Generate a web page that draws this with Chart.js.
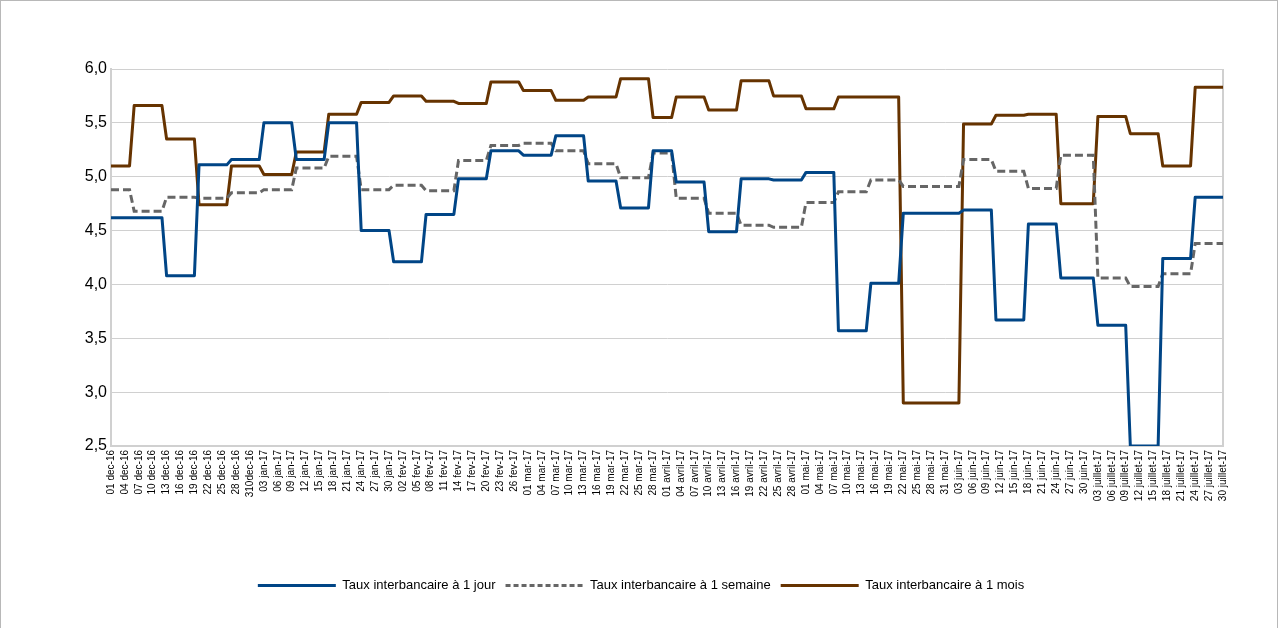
<!DOCTYPE html>
<html><head><meta charset="utf-8">
<script src="https://cdn.jsdelivr.net/npm/chart.js@4"></script>
<style>html,body{margin:0;padding:0;background:#fff;overflow:hidden}</style>
</head><body><canvas id="c" width="1281" height="628"></canvas>
<script>
const dateLabels = [
 "01 dec-16","04 dec-16","07 dec-16","10 dec-16","13 dec-16","16 dec-16","19 dec-16","22 dec-16","25 dec-16","28 dec-16","310dec-16",
 "03 jan-17","06 jan-17","09 jan-17","12 jan-17","15 jan-17","18 jan-17","21 jan-17","24 jan-17","27 jan-17","30 jan-17",
 "02 fev-17","05 fev-17","08 fev-17","11 fev-17","14 fev-17","17 fev-17","20 fev-17","23 fev-17","26 fev-17",
 "01 mar-17","04 mar-17","07 mar-17","10 mar-17","13 mar-17","16 mar-17","19 mar-17","22 mar-17","25 mar-17","28 mar-17",
 "01 avril-17","04 avril-17","07 avril-17","10 avril-17","13 avril-17","16 avril-17","19 avril-17","22 avril-17","25 avril-17","28 avril-17",
 "01 mai-17","04 mai-17","07 mai-17","10 mai-17","13 mai-17","16 mai-17","19 mai-17","22 mai-17","25 mai-17","28 mai-17","31 mai-17",
 "03 juin-17","06 juin-17","09 juin-17","12 juin-17","15 juin-17","18 juin-17","21 juin-17","24 juin-17","27 juin-17","30 juin-17",
 "03 juillet-17","06 juillet-17","09 juillet-17","12 juillet-17","15 juillet-17","18 juillet-17","21 juillet-17","24 juillet-17","27 juillet-17","30 juillet-17"
];
// day index (0 = 01 dec-16) at which each weekly value starts
const periodStart = [0,5,12,19,26,33,40,47,54,61,68,75,82,89,96,103,110,117,122,129,136,143,150,157,164,171,184,191,198,205,213,220,227,234];
const lastDay = 240;
const taux1Jour = [4.62,4.62,4.08,5.11,5.16,5.50,5.16,5.50,4.50,4.21,4.65,4.98,5.24,5.20,5.38,4.96,4.71,5.24,4.95,4.49,4.98,4.97,5.04,3.57,4.01,4.66,4.69,3.67,4.56,4.06,3.62,2.50,4.24,4.81];
const taux1Semaine = [4.88,4.68,4.81,4.80,4.85,4.88,5.08,5.19,4.88,4.92,4.87,5.15,5.29,5.31,5.24,5.12,4.99,5.22,4.80,4.66,4.55,4.53,4.76,4.86,4.97,4.91,5.16,5.05,4.89,5.20,4.06,3.98,4.10,4.38];
const taux1Mois = [5.10,5.66,5.35,4.74,5.10,5.02,5.23,5.58,5.69,5.75,5.70,5.68,5.88,5.80,5.71,5.74,5.91,5.55,5.74,5.62,5.89,5.75,5.63,5.74,5.74,2.90,5.49,5.57,5.58,4.75,5.56,5.40,5.10,5.83];
const seriesNames = ["Taux interbancaire à 1 jour","Taux interbancaire à 1 semaine","Taux interbancaire à 1 mois"];
const yTicks = [2.5,3.0,3.5,4.0,4.5,5.0,5.5,6.0];

function toPoints(vals){
  const pts=[];
  for(let k=0;k<periodStart.length;k++){
    const s=periodStart[k];
    const e=(k+1<periodStart.length)?periodStart[k+1]-1:lastDay;
    pts.push({x:s,y:vals[k]});
    if(e>s) pts.push({x:e,y:vals[k]});
  }
  return pts;
}
const FONT="'Liberation Sans', Arial, sans-serif";
const framePlugin={
  id:'frame',
  beforeDraw(chart){
    const ctx=chart.ctx;
    ctx.save();
    ctx.fillStyle='#fff';ctx.fillRect(0,0,chart.width,chart.height);
    ctx.strokeStyle='#b8b8b8';ctx.lineWidth=1;
    ctx.strokeRect(0.5,0.5,1277,700);
    ctx.restore();
  },
  beforeDatasetsDraw(chart){
    const a=chart.chartArea, ctx=chart.ctx;
    ctx.save();
    ctx.strokeStyle='#d0d0d0';ctx.lineWidth=2;
    ctx.beginPath();ctx.moveTo(a.right,a.top);ctx.lineTo(a.right,a.bottom);ctx.stroke();
    ctx.restore();
  }
};
const legendDash=[[],[5,3],[]];
new Chart(document.getElementById('c'),{
  type:'line',
  data:{datasets:[
    {label:seriesNames[0],data:toPoints(taux1Jour),borderColor:'#004586',backgroundColor:'#004586',borderWidth:3,pointRadius:0,tension:0,borderJoinStyle:'round'},
    {label:seriesNames[1],data:toPoints(taux1Semaine),borderColor:'#666666',backgroundColor:'#666666',borderWidth:3,borderDash:[8,4],pointRadius:0,tension:0},
    {label:seriesNames[2],data:toPoints(taux1Mois),borderColor:'#663300',backgroundColor:'#663300',borderWidth:3,pointRadius:0,tension:0,borderJoinStyle:'round'}
  ]},
  options:{
    responsive:false,animation:false,devicePixelRatio:1,
    layout:{padding:{left:59,right:58,top:69,bottom:26}},
    plugins:{
      tooltip:{enabled:false},
      legend:{position:'bottom',labels:{usePointStyle:true,pointStyle:'line',pointStyleWidth:78,boxHeight:13,padding:10,color:'#000',font:{size:13,family:FONT},
        generateLabels:(chart)=>Chart.defaults.plugins.legend.labels.generateLabels(chart).map((it,i)=>Object.assign(it,{
          lineDash:legendDash[i],lineWidth:3,strokeStyle:chart.data.datasets[i].borderColor,pointStyle:'line'}))
      }}
    },
    scales:{
      x:{type:'linear',min:0,max:lastDay,
        grid:{display:false,drawTicks:false},
        border:{display:true,color:'#d0d0d0',width:2},
        ticks:{stepSize:3,autoSkip:false,maxRotation:90,minRotation:90,padding:4,color:'#000',font:{size:10,family:FONT},
          callback:(v)=>dateLabels[Math.round(v/3)]},
        afterFit:(s)=>{s.height=123;}
      },
      y:{min:yTicks[0],max:yTicks[yTicks.length-1],
        afterBuildTicks:(s)=>{s.ticks=yTicks.map(v=>({value:v}));},
        grid:{color:'#d0d0d0',lineWidth:1,drawTicks:false},
        border:{display:true,color:'#d0d0d0',width:2},
        ticks:{padding:4,color:'#000',font:{size:16,family:FONT},callback:(v)=>v.toFixed(1).replace('.',',')},
        afterFit:(s)=>{s.width=52;}
      }
    }
  },
  plugins:[framePlugin]
});
</script></body></html>
